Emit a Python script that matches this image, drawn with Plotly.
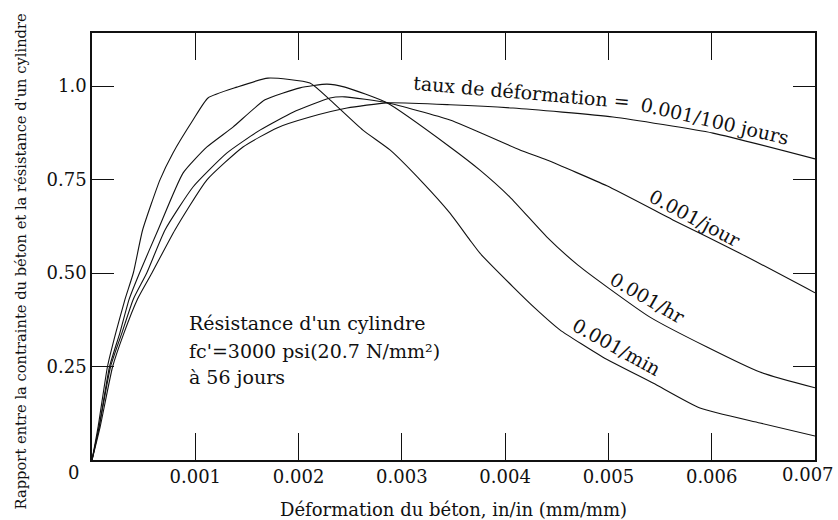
import plotly.graph_objects as go

# Concrete stress–strain curves at four loading rates (stress ratio vs strain)
strain_min = [0, 0.00006, 0.00015, 0.00023, 0.00032, 0.0004, 0.00049, 0.000658, 0.000784,
              0.000978, 0.001123, 0.001404, 0.001704, 0.00211, 0.002304, 0.002623, 0.002885,
              0.003204, 0.003466, 0.003659, 0.003756, 0.004076, 0.004289, 0.00453, 0.004947,
              0.005431, 0.005886, 0.006467, 0.007]
ratio_min = [0, 0.09, 0.25, 0.34, 0.43, 0.50, 0.615, 0.749, 0.821,
             0.909, 0.968, 0.997, 1.021, 1.008, 0.963, 0.882, 0.829,
             0.741, 0.660, 0.588, 0.553, 0.463, 0.406, 0.348, 0.275,
             0.206, 0.139, 0.099, 0.064]

strain_hr = [0, 0.00007, 0.00017, 0.00027, 0.00036, 0.00046, 0.000639, 0.000881, 0.001113,
             0.001365, 0.001675, 0.002014, 0.002275, 0.002449, 0.002856, 0.003466, 0.003756,
             0.004046, 0.004405, 0.004705, 0.004985, 0.005402, 0.005954, 0.006467, 0.007]
ratio_hr = [0, 0.09, 0.25, 0.34, 0.43, 0.50, 0.615, 0.767, 0.837,
            0.890, 0.963, 0.995, 1.005, 0.997, 0.955, 0.837, 0.775,
            0.703, 0.596, 0.521, 0.463, 0.382, 0.302, 0.235, 0.193]

strain_jour = [0, 0.00007, 0.00018, 0.00029, 0.0004, 0.00053, 0.000707, 0.000978, 0.001307,
               0.001626, 0.001946, 0.002304, 0.002449, 0.002856, 0.003466, 0.004143, 0.004405,
               0.004985, 0.005624, 0.006273, 0.007]
ratio_jour = [0, 0.09, 0.25, 0.34, 0.43, 0.50, 0.615, 0.730, 0.821,
              0.882, 0.930, 0.968, 0.971, 0.955, 0.909, 0.829, 0.802,
              0.733, 0.642, 0.553, 0.447]

strain_100j = [0, 0.00008, 0.0002, 0.00031, 0.00044, 0.00058, 0.000803, 0.001113, 0.001462,
               0.001791, 0.00211, 0.002469, 0.002856, 0.003466, 0.004076, 0.005044, 0.006012,
               0.007]
ratio_100j = [0, 0.09, 0.25, 0.34, 0.43, 0.50, 0.615, 0.749, 0.837,
              0.888, 0.917, 0.941, 0.955, 0.950, 0.941, 0.917, 0.874,
              0.805]

x_tick_vals = [0.001, 0.002, 0.003, 0.004, 0.005, 0.006, 0.007]
x_tick_text = ["0.001", "0.002", "0.003", "0.004", "0.005", "0.006", "0.007"]
y_tick_vals = [0.25, 0.5, 0.75, 1.0]
y_tick_text = ["0.25", "0.50", "0.75", "1.0"]

SERIF = "DejaVu Serif"
INK = "#111111"
tick_font = dict(family=SERIF, size=18, color=INK)

fig = go.Figure()
for xs, ys in [(strain_min, ratio_min), (strain_hr, ratio_hr),
               (strain_jour, ratio_jour), (strain_100j, ratio_100j)]:
    fig.add_trace(go.Scatter(x=xs, y=ys, mode="lines",
                             line=dict(color=INK, width=1.1, shape="spline", smoothing=0.5),
                             showlegend=False, hoverinfo="skip"))

lab_font = dict(family=SERIF, size=19, color=INK)
curve_labels = [
    ("taux de déformation =", 0.004163, 0.985, 5),
    ("0.001/100 jours", 0.00603, 0.906, 13),
    ("0.001/jour", 0.005837, 0.647, 28),
    ("0.001/hr", 0.005382, 0.433, 30),
    ("0.001/min", 0.005082, 0.302, 29),
]
for txt, x, y, ang in curve_labels:
    fig.add_annotation(x=x, y=y, xref="x", yref="y", text=txt, showarrow=False,
                       textangle=ang, font=lab_font)

note_lines = [("Résistance d'un cylindre", 0.366),
              ("fc'=3000 psi(20.7 N/mm²)", 0.291),
              ("à 56 jours", 0.222)]
for txt, y in note_lines:
    fig.add_annotation(x=0.00092, y=y, xref="x", yref="y", text=txt, showarrow=False,
                       xanchor="left", yanchor="middle", font=lab_font)

# the last x tick label sits at the right edge of the frame, drawn as an annotation
fig.add_annotation(x=x_tick_vals[-1], y=-0.0351, xref="x", yref="paper",
                   text=x_tick_text[-1], showarrow=False, xshift=-7,
                   xanchor="center", yanchor="middle", font=tick_font)

# origin label and axis titles
fig.add_annotation(x=-0.0249, y=-0.0304, xref="paper", yref="paper", text="0",
                   showarrow=False, xanchor="center", yanchor="middle", font=tick_font)
fig.add_annotation(x=0.5, y=-0.117, xref="paper", yref="paper",
                   text="Déformation du béton, in/in (mm/mm)", showarrow=False,
                   xanchor="center", yanchor="middle",
                   font=dict(family=SERIF, size=18, color=INK))
fig.add_annotation(x=-0.0996, y=0.465, xref="paper", yref="paper",
                   text="Rapport entre la contrainte du béton et la résistance d'un cylindre",
                   showarrow=False, textangle=-90, xanchor="center", yanchor="middle",
                   font=dict(family=SERIF, size=14.7, color=INK))

fig.update_xaxes(range=[0, 0.007], tickvals=x_tick_vals[:-1], ticktext=x_tick_text[:-1],
                 ticks="inside", ticklen=27, tickwidth=1.3, tickcolor=INK,
                 showline=True, linecolor=INK, linewidth=1.5, mirror="allticks",
                 showgrid=False, zeroline=False, tickfont=tick_font)
fig.update_yaxes(range=[0, 1.1417], tickvals=y_tick_vals, ticktext=y_tick_text,
                 ticks="inside", ticklen=22, tickwidth=1.3, tickcolor=INK,
                 showline=True, linecolor=INK, linewidth=1.5, mirror="allticks",
                 showgrid=False, zeroline=False, tickfont=tick_font)

fig.update_layout(width=838, height=520, margin=dict(l=92, r=23, t=33, b=60),
                  paper_bgcolor="white", plot_bgcolor="white")

fig.write_html("out.html")
